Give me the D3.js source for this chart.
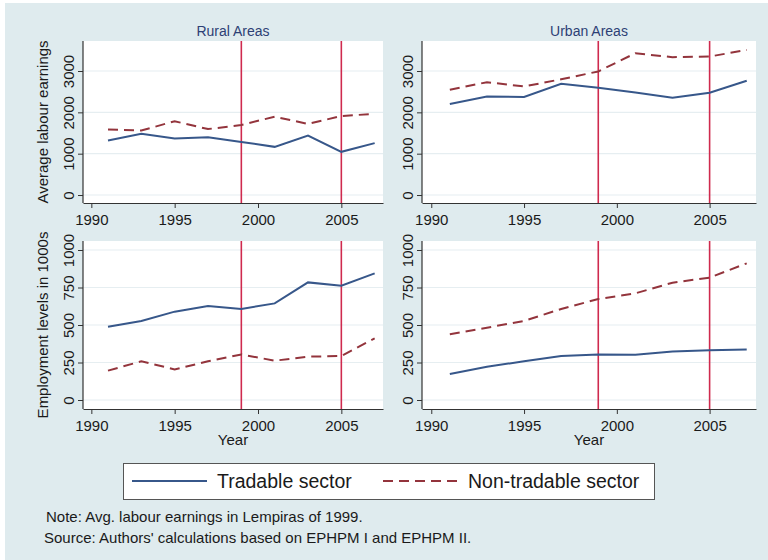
<!DOCTYPE html>
<html>
<head>
<meta charset="utf-8">
<script src="https://cdn.jsdelivr.net/npm/d3@7"></script>
<style>
  html, body { margin: 0; padding: 0; background: #fff; }
  svg { display: block; font-family: 'Liberation Sans', Arial, sans-serif; }
</style>
</head>
<body>
<svg id="chart" width="768" height="560"></svg>
<script>
// Data
const years = [1991, 1993, 1995, 1997, 1999, 2001, 2003, 2005, 2007];
const ruralEarnTradable    = [1320, 1480, 1365, 1400, 1285, 1165, 1440, 1045, 1255];
const ruralEarnNonTradable = [1585, 1560, 1785, 1595, 1695, 1895, 1720, 1910, 1965];
const urbanEarnTradable    = [2200, 2385, 2370, 2690, 2595, 2480, 2355, 2475, 2765];
const urbanEarnNonTradable = [2545, 2730, 2625, 2800, 2990, 3430, 3335, 3350, 3510];
const ruralEmpTradable     = [489, 527, 589, 627, 607, 644, 784, 762, 844];
const ruralEmpNonTradable  = [196, 258, 204, 258, 304, 262, 289, 293, 411];
const urbanEmpTradable     = [173, 222, 258, 293, 304, 302, 324, 331, 336];
const urbanEmpNonTradable  = [438, 482, 527, 607, 673, 711, 782, 816, 911];

const xTicks = [1990, 1995, 2000, 2005];
const earnTicks = [0, 1000, 2000, 3000];
const empTicks = [0, 250, 500, 750, 1000];
const markYears = [1999, 2005];
const colTitles = ['Rural Areas', 'Urban Areas'];
const rowTitles = ['Average labour earnings', 'Employment levels in 1000s'];
const seriesNames = ['Tradable sector', 'Non-tradable sector'];
const notes = ['Note: Avg. labour earnings in Lempiras of 1999.',
               "Source: Authors' calculations based on EPHPM I and EPHPM II."];

const navy = '#37578a', maroon = '#93343c', vred = '#cf2a4e', bg = '#dfebee';

const svg = d3.select('#chart');
svg.append('rect').attr('x', 5).attr('y', 3).attr('width', 763).attr('height', 557).attr('fill', bg);

const cols = [{x0: 83, x1: 383}, {x0: 422, x1: 756}];
const rows = [
  {y0: 41, y1: 203, domain: [-193, 3726], ticks: earnTicks},
  {y0: 241, y1: 409, domain: [-60, 1060], ticks: empTicks}
];
const panels = [
  {r: 0, c: 0, a: ruralEarnTradable, b: ruralEarnNonTradable},
  {r: 0, c: 1, a: urbanEarnTradable, b: urbanEarnNonTradable},
  {r: 1, c: 0, a: ruralEmpTradable, b: ruralEmpNonTradable},
  {r: 1, c: 1, a: urbanEmpTradable, b: urbanEmpNonTradable}
];

panels.forEach(p => {
  const col = cols[p.c], row = rows[p.r];
  const x = d3.scaleLinear().domain([1989.5, 2007.5]).range([col.x0, col.x1]);
  const y = d3.scaleLinear().domain(row.domain).range([row.y1, row.y0]);
  const g = svg.append('g');

  g.append('rect').attr('x', col.x0).attr('y', row.y0)
    .attr('width', col.x1 - col.x0).attr('height', row.y1 - row.y0).attr('fill', '#fff');

  // faint gridlines
  g.selectAll('.grid').data(row.ticks).enter().append('line')
    .attr('x1', col.x0).attr('x2', col.x1)
    .attr('y1', d => y(d)).attr('y2', d => y(d))
    .attr('stroke', '#e6eef1').attr('stroke-width', 1.2);

  // reform year markers
  g.selectAll('.vl').data(markYears).enter().append('line')
    .attr('x1', d => x(d)).attr('x2', d => x(d))
    .attr('y1', row.y0).attr('y2', row.y1)
    .attr('stroke', vred).attr('stroke-width', 1.6);

  const line = d3.line().x((d, i) => x(years[i])).y(d => y(d));
  g.append('path').datum(p.a).attr('d', line)
    .attr('fill', 'none').attr('stroke', navy).attr('stroke-width', 2);
  g.append('path').datum(p.b).attr('d', line)
    .attr('fill', 'none').attr('stroke', maroon).attr('stroke-width', 2)
    .attr('stroke-dasharray', '10,6');

  // axes
  const ax = g.append('g').attr('transform', `translate(0,${row.y1})`)
    .call(d3.axisBottom(x).tickValues(xTicks).tickFormat(d3.format('d')).tickSize(5).tickSizeOuter(0).tickPadding(6));
  const ay = g.append('g').attr('transform', `translate(${col.x0},0)`)
    .call(d3.axisLeft(y).tickValues(row.ticks).tickFormat(d3.format('d')).tickSize(5).tickSizeOuter(0));
  [ax, ay].forEach(a => {
    a.select('.domain').attr('stroke', '#333').attr('stroke-width', 1.2);
    a.selectAll('line').attr('stroke', '#333');
    a.selectAll('text').attr('fill', '#1a1a1a').style('font-size', '15px');
  });
  ay.select('.domain').attr('d', `M0,${row.y0}V${row.y1}`);
  ay.selectAll('text').attr('transform', 'rotate(-90)')
    .attr('x', 0).attr('y', -9.5).attr('dy', 0).attr('text-anchor', 'middle');

  if (p.r === 0) {
    g.append('text').attr('x', (col.x0 + col.x1) / 2).attr('y', 35.5)
      .attr('text-anchor', 'middle').attr('fill', '#2d3f75').style('font-size', '14px')
      .text(colTitles[p.c]);
  } else {
    g.append('text').attr('x', (col.x0 + col.x1) / 2).attr('y', 445)
      .attr('text-anchor', 'middle').attr('fill', '#1a1a1a').style('font-size', '15px')
      .text('Year');
  }
  if (p.c === 0) {
    g.append('text')
      .attr('transform', `translate(48,${(row.y0 + row.y1) / 2}) rotate(-90)`)
      .attr('text-anchor', 'middle').attr('fill', '#1a1a1a').style('font-size', '15px')
      .text(rowTitles[p.r]);
  }
});

// legend
const lg = svg.append('g');
lg.append('rect').attr('x', 123.5).attr('y', 463.5).attr('width', 531).attr('height', 36)
  .attr('fill', '#fff').attr('stroke', '#555').attr('stroke-width', 1);
const legendItems = [
  {name: seriesNames[0], color: navy, dash: null, x: 132},
  {name: seriesNames[1], color: maroon, dash: '10,6', x: 383}
];
legendItems.forEach(it => {
  lg.append('line').attr('x1', it.x).attr('x2', it.x + 75).attr('y1', 481).attr('y2', 481)
    .attr('stroke', it.color).attr('stroke-width', 2).attr('stroke-dasharray', it.dash);
  lg.append('text').attr('x', it.x + 85).attr('y', 488).attr('fill', '#1a1a1a')
    .style('font-size', '19.5px').text(it.name);
});

svg.selectAll('.note').data(notes).enter().append('text')
  .attr('x', (d, i) => 46 - i * 2).attr('y', (d, i) => 522 + i * 21)
  .attr('fill', '#1a1a1a').style('font-size', '15px').text(d => d);
</script>
</body>
</html>
